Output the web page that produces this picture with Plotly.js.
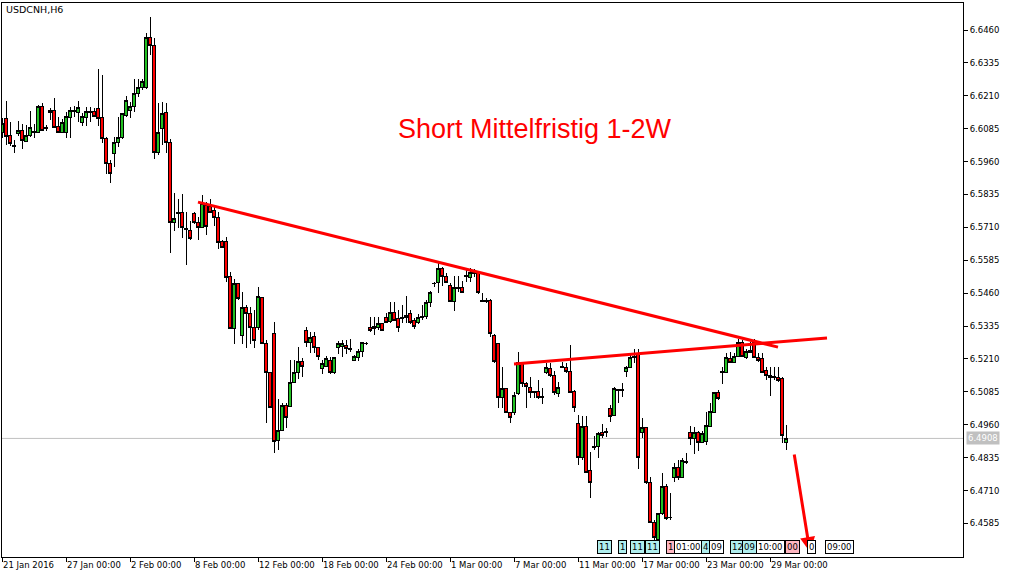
<!DOCTYPE html>
<html><head><meta charset="utf-8">
<script src="https://cdn.plot.ly/plotly-3.0.1.min.js"></script>
<style>html,body{margin:0;padding:0;background:#fff;}#chart{width:1010px;height:578px;}
#chart .boxlayer path{shape-rendering:crispEdges;}</style>
</head><body><div id="chart"></div>
<script>
const openP = [6.6072,6.6122,6.6061,6.6023,6.6065,6.6080,6.6038,6.6061,6.6072,6.6072,
6.6171,6.6088,6.6145,6.6156,6.6095,6.6072,6.6069,6.6129,6.6152,6.6148,
6.6107,6.6126,6.6152,6.6152,6.6160,6.6126,6.6046,6.5951,6.5989,6.6031,
6.6050,6.6137,6.6156,6.6171,6.6217,6.6240,6.6243,6.6430,6.6403,6.5993,
6.6084,6.6145,6.6031,6.5727,6.5761,6.5765,6.5704,6.5700,6.5761,6.5730,
6.5708,6.5795,6.5791,6.5776,6.5749,6.5658,6.5658,6.5525,6.5324,6.5495,
6.5301,6.5407,6.5381,6.5328,6.5328,6.5445,6.5267,6.5157,6.5305,6.4902,
6.4940,6.5035,6.5031,6.5122,6.5157,6.5202,6.5320,6.5271,6.5297,6.5252,
6.5172,6.5183,6.5206,6.5157,6.5252,6.5259,6.5263,6.5248,6.5206,6.5217,
6.5237,6.5267,6.5328,6.5324,6.5331,6.5343,6.5369,6.5354,6.5385,6.5362,
6.5362,6.5369,6.5381,6.5358,6.5347,6.5369,6.5373,6.5426,6.5495,6.5499,
6.5552,6.5525,6.5491,6.5430,6.5480,6.5480,6.5525,6.5521,6.5533,6.5537,
6.5430,6.5431,6.5434,6.5301,6.5267,6.5062,6.5096,6.5005,6.5005,6.5077,
6.5195,6.5118,6.5100,6.5081,6.5088,6.5066,6.5157,6.5172,6.5149,6.5077,
6.5179,6.5179,6.5164,6.5088,6.4963,6.4837,6.4955,6.4788,6.4872,6.4876,
6.4929,6.4932,6.5020,6.4997,6.5092,6.5092,6.5164,6.5179,6.5217,6.5229,
6.4932,6.4948,6.4739,6.4587,6.4524,6.4621,6.4727,6.4606,6.4761,6.4799,
6.4761,6.4822,6.4932,6.4906,6.4932,6.4894,6.4898,6.4955,6.5008,6.5081,
6.5157,6.5160,6.5210,6.5198,6.5221,6.5271,6.5214,6.5233,6.5274,6.5217,
6.5210,6.5168,6.5138,6.5141,6.5141,6.5134,6.4891];
const highP = [6.6126,6.6190,6.6110,6.6042,6.6114,6.6103,6.6099,6.6152,6.6103,6.6175,
6.6183,6.6099,6.6164,6.6202,6.6129,6.6122,6.6148,6.6167,6.6171,6.6190,
6.6145,6.6167,6.6167,6.6164,6.6312,6.6289,6.6053,6.5966,6.6053,6.6129,
6.6145,6.6209,6.6186,6.6274,6.6274,6.6274,6.6449,6.6509,6.6430,6.6183,
6.6186,6.6183,6.6046,6.5841,6.5818,6.5837,6.5768,6.5734,6.5768,6.5749,
6.5833,6.5806,6.5818,6.5787,6.5768,6.5662,6.5673,6.5540,6.5514,6.5497,
6.5464,6.5415,6.5407,6.5396,6.5483,6.5447,6.5282,6.5159,6.5350,6.5058,
6.5043,6.5043,6.5206,6.5206,6.5255,6.5214,6.5331,6.5312,6.5312,6.5255,
6.5206,6.5221,6.5217,6.5219,6.5278,6.5282,6.5282,6.5286,6.5225,6.5248,
6.5274,6.5274,6.5369,6.5369,6.5369,6.5347,6.5385,6.5426,6.5426,6.5396,
6.5415,6.5449,6.5396,6.5366,6.5381,6.5415,6.5434,6.5468,6.5502,6.5582,
6.5559,6.5537,6.5499,6.5525,6.5525,6.5506,6.5556,6.5556,6.5552,6.5544,
6.5461,6.5442,6.5438,6.5305,6.5269,6.5179,6.5100,6.5007,6.5084,6.5237,
6.5197,6.5122,6.5141,6.5090,6.5130,6.5100,6.5195,6.5195,6.5164,6.5122,
6.5198,6.5195,6.5263,6.5092,6.4997,6.4993,6.4993,6.4856,6.4917,6.4932,
6.4963,6.4948,6.5035,6.5103,6.5096,6.5118,6.5183,6.5229,6.5248,6.5248,
6.4986,6.4951,6.4761,6.4598,6.4625,6.4777,6.4735,6.4701,6.4815,6.4826,
6.4834,6.4853,6.4955,6.4951,6.4936,6.4936,6.5008,6.5043,6.5084,6.5092,
6.5179,6.5233,6.5237,6.5233,6.5286,6.5282,6.5248,6.5274,6.5286,6.5233,
6.5233,6.5179,6.5179,6.5179,6.5179,6.5141,6.4959];
const lowP = [6.6050,6.6023,6.6019,6.5993,6.6057,6.6008,6.6034,6.6053,6.6050,6.6069,
6.6076,6.6076,6.6118,6.6088,6.6069,6.6070,6.6050,6.6050,6.6129,6.6110,
6.6095,6.6095,6.6110,6.6129,6.6095,6.6031,6.5913,6.5879,6.5939,6.6015,
6.6046,6.6129,6.6126,6.6148,6.6205,6.6232,6.6236,6.6365,6.5970,6.5985,
6.6023,6.5993,6.5613,6.5696,6.5708,6.5670,6.5567,6.5662,6.5723,6.5662,
6.5706,6.5681,6.5765,6.5715,6.5628,6.5632,6.5502,6.5322,6.5267,6.5434,
6.5267,6.5252,6.5267,6.5252,6.5320,6.5265,6.4967,6.5022,6.4853,6.4864,
6.4936,6.4948,6.5027,6.5118,6.5134,6.5141,6.5255,6.5233,6.5233,6.5206,
6.5153,6.5179,6.5153,6.5153,6.5229,6.5217,6.5229,6.5237,6.5202,6.5202,
6.5217,6.5263,6.5312,6.5301,6.5320,6.5316,6.5347,6.5347,6.5354,6.5312,
6.5347,6.5347,6.5343,6.5324,6.5343,6.5358,6.5362,6.5407,6.5483,6.5461,
6.5487,6.5500,6.5426,6.5392,6.5465,6.5459,6.5502,6.5502,6.5521,6.5457,
6.5426,6.5423,6.5293,6.5195,6.5024,6.5024,6.5003,6.4967,6.4997,6.5073,
6.5103,6.5024,6.5062,6.5062,6.5058,6.5039,6.5153,6.5141,6.5073,6.5066,
6.5176,6.5157,6.5081,6.5008,6.4807,6.4826,6.4777,6.4682,6.4864,6.4834,
6.4910,6.4914,6.4970,6.4993,6.5043,6.5066,6.5141,6.5176,6.5195,6.4792,
6.4910,6.4735,6.4585,6.4522,6.4520,6.4617,6.4598,6.4598,6.4742,6.4750,
6.4759,6.4811,6.4883,6.4849,6.4860,6.4891,6.4883,6.4951,6.5005,6.5054,
6.5115,6.5157,6.5195,6.5195,6.5217,6.5217,6.5210,6.5231,6.5212,6.5198,
6.5157,6.5130,6.5069,6.5130,6.5122,6.4891,6.4864];
const closeP = [6.6103,6.6057,6.6027,6.6019,6.6080,6.6042,6.6061,6.6088,6.6073,6.6171,
6.6080,6.6087,6.6156,6.6091,6.6072,6.6107,6.6133,6.6156,6.6156,6.6164,
6.6133,6.6152,6.6148,6.6133,6.6122,6.6046,6.5951,6.5913,6.6031,6.6050,
6.6143,6.6194,6.6171,6.6217,6.6240,6.6266,6.6430,6.6403,6.5996,6.6069,
6.6141,6.6031,6.5727,6.5742,6.5765,6.5708,6.5702,6.5666,6.5730,6.5711,
6.5799,6.5715,6.5768,6.5749,6.5654,6.5635,6.5521,6.5324,6.5495,6.5438,
6.5407,6.5381,6.5328,6.5282,6.5449,6.5267,6.5160,6.5024,6.4898,6.4940,
6.5035,6.4986,6.5122,6.5157,6.5202,6.5183,6.5271,6.5293,6.5252,6.5221,
6.5191,6.5210,6.5157,6.5217,6.5267,6.5267,6.5248,6.5247,6.5221,6.5237,
6.5271,6.5268,6.5320,6.5335,6.5343,6.5320,6.5350,6.5385,6.5358,6.5331,
6.5369,6.5377,6.5350,6.5335,6.5369,6.5373,6.5426,6.5461,6.5496,6.5552,
6.5525,6.5502,6.5430,6.5483,6.5479,6.5461,6.5526,6.5540,6.5544,6.5461,
6.5431,6.5430,6.5305,6.5202,6.5062,6.5096,6.5005,6.4986,6.5073,6.5195,
6.5115,6.5107,6.5081,6.5088,6.5062,6.5065,6.5176,6.5149,6.5081,6.5103,
6.5180,6.5164,6.5084,6.5024,6.4834,6.4955,6.4780,6.4742,6.4876,6.4925,
6.4921,6.4933,6.4993,6.5096,6.5093,6.5093,6.5179,6.5217,6.5218,6.4837,
6.4948,6.4739,6.4587,6.4530,6.4621,6.4727,6.4602,6.4607,6.4796,6.4761,
6.4826,6.4815,6.4906,6.4932,6.4894,6.4925,6.4959,6.5012,6.5081,6.5058,
6.5164,6.5214,6.5198,6.5221,6.5271,6.5221,6.5237,6.5244,6.5214,6.5206,
6.5160,6.5149,6.5149,6.5142,6.5130,6.4921,6.4908];

const tickBars = [0,16,32,48,64,80,96,112,128,144,160,176,192];
const tickLabels = ['21 Jan 2016','27 Jan 00:00','2 Feb 00:00','8 Feb 00:00','12 Feb 00:00','18 Feb 00:00','24 Feb 00:00','1 Mar 00:00','7 Mar 00:00','11 Mar 00:00','17 Mar 00:00','23 Mar 00:00','29 Mar 00:00'];
const priceTicks = [6.4585,6.4710,6.4835,6.4960,6.5085,6.5210,6.5335,6.5460,6.5585,6.5710,6.5835,6.5960,6.6085,6.6210,6.6335,6.6460];
const lastPrice = 6.4908;

const trendDown = {x:[49,194], y:[6.5806,6.5255]};
const neckLine = {x:[128,206.25], y:[6.5191,6.5290]};
const arrowFrom = {x:198, y:6.4853};
const arrowTo = {x:202, y:6.4476};
const noteText = 'Short Mittelfristig 1-2W';

const eventLabels = ['11','1','11','11','1','01:00','4','09','12','09','10:00','00','0','09:00'];
const eventBars = [150.5,155,158.75,162.5,167,171.5,175.75,178.5,183.75,186.75,192,197.5,202.25,209.25];
const eventKinds = ['c','c','c','c','p','w','c','w','c','c','w','p','w','w'];

const xs = openP.map((_, i) => i);
const font = 'DejaVu Sans, sans-serif';

const trace = {
  type: 'candlestick', x: xs, open: openP, high: highP, low: lowP, close: closeP,
  increasing: {line: {color: '#000000', width: 1}, fillcolor: '#22c022'},
  decreasing: {line: {color: '#000000', width: 1}, fillcolor: '#ff0000'},
  whiskerwidth: 0, hoverinfo: 'skip', showlegend: false
};

const kindColor = {c: '#afeeee', p: '#ffb6c1', w: '#ffffff'};
const annotations = [
  {xref:'x', yref:'y', x:133.25, y:6.6084, text:noteText, showarrow:false,
   font:{family:'Liberation Sans, Arial, sans-serif', size:27, color:'#ff0000'}},
  {xref:'x', yref:'y', axref:'x', ayref:'y', x:arrowTo.x, y:arrowTo.y, ax:arrowFrom.x, ay:arrowFrom.y,
   text:'', showarrow:true, arrowhead:2, arrowsize:1, arrowwidth:3, arrowcolor:'#ff0000'},
  {xref:'paper', yref:'y', x:1, y:lastPrice, xanchor:'left', xshift:3, text:lastPrice.toFixed(4), showarrow:false,
   bgcolor:'#c0c0c0', borderpad:1, font:{family:font, size:8.5, color:'#ffffff'}}
];
eventLabels.forEach((t, k) => {
  annotations.push({xref:'x', yref:'y', x:eventBars[k], y:6.4494, text:t, showarrow:false,
    bgcolor:kindColor[eventKinds[k]], bordercolor:'#000000', borderwidth:1, borderpad:1,
    font:{family:font, size:8.5, color:'#000000'}});
});

const layout = {
  width: 1010, height: 578,
  margin: {l: 2, r: 47, t: 3, b: 21, pad: 0},
  paper_bgcolor: '#ffffff', plot_bgcolor: '#ffffff',
  title: {text: 'USDCNH,H6', x: 6/1010, xanchor: 'left', xref: 'container', y: 1 - 10/578, yanchor: 'middle', yref: 'container',
          font: {family: font, size: 9.5, color: '#000000'}},
  boxgap: 0.15,
  xaxis: {range: [0, 240.25], rangeslider: {visible: false}, tickmode: 'array', tickvals: tickBars, ticktext: tickLabels,
          ticks: 'outside', ticklen: 4, tickcolor: '#000', ticklabelposition: 'outside right', tickangle: 0,
          showgrid: false, zeroline: false, showline: true, mirror: true, linecolor: '#000', linewidth: 1,
          tickfont: {family: font, size: 8.5, color: '#000'}, fixedrange: true},
  yaxis: {range: [6.44574, 6.65626], side: 'right', tickmode: 'array', tickvals: priceTicks,
          ticktext: priceTicks.map(v => v.toFixed(4)), ticks: 'outside', ticklen: 4, tickcolor: '#000',
          showgrid: false, zeroline: false, showline: true, mirror: true, linecolor: '#000', linewidth: 1,
          tickfont: {family: font, size: 8.5, color: '#000'}, fixedrange: true},
  shapes: [
    {type:'line', xref:'paper', yref:'y', x0:0, x1:1, y0:lastPrice, y1:lastPrice, line:{color:'#c0c0c0', width:1}, layer:'below'},
    {type:'line', xref:'x', yref:'y', x0:trendDown.x[0], x1:trendDown.x[1], y0:trendDown.y[0], y1:trendDown.y[1], line:{color:'#ff0000', width:3}},
    {type:'line', xref:'x', yref:'y', x0:neckLine.x[0], x1:neckLine.x[1], y0:neckLine.y[0], y1:neckLine.y[1], line:{color:'#ff0000', width:3}}
  ],
  annotations: annotations,
  showlegend: false
};

Plotly.newPlot('chart', [trace], layout, {staticPlot: true, displayModeBar: false});
</script></body></html>
